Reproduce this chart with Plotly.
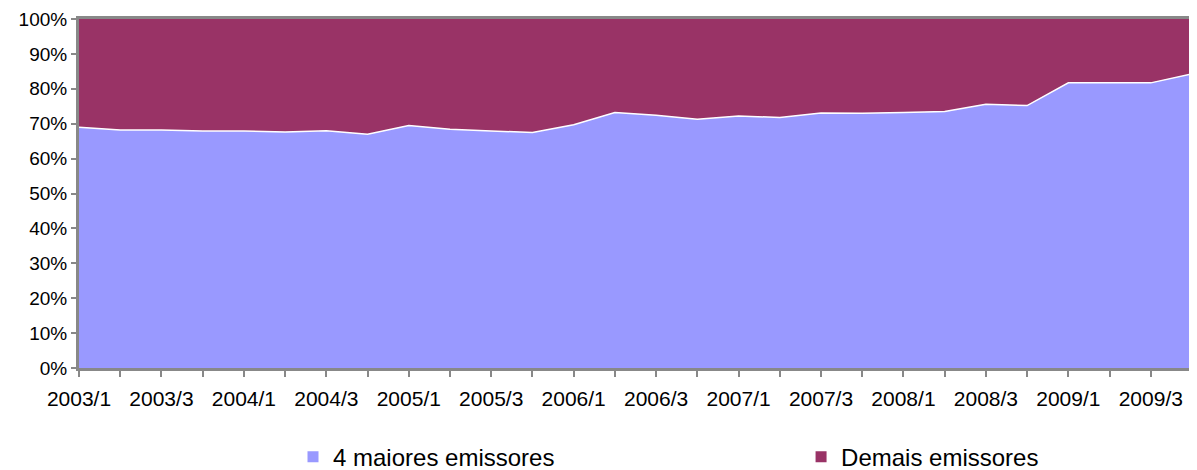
import plotly.graph_objects as go

# quarters 2003/1 .. 2009/4
quarters = [f"{y}/{q}" for y in range(2003, 2010) for q in range(1, 5)]

# share of the 4 largest issuers (%)
top4 = [
    69.0, 68.2, 68.2, 67.9,
    67.9, 67.6, 68.0, 67.0,
    69.5, 68.4, 67.9, 67.5,
    69.7, 73.2, 72.4, 71.3,
    72.2, 71.8, 73.1, 73.0,
    73.2, 73.5, 75.6, 75.2,
    81.7, 81.7, 81.7, 84.3,
]

# share of the remaining issuers (%)
others = [
    31.0, 31.8, 31.8, 32.1,
    32.1, 32.4, 32.0, 33.0,
    30.5, 31.6, 32.1, 32.5,
    30.3, 26.8, 27.6, 28.7,
    27.8, 28.2, 26.9, 27.0,
    26.8, 26.5, 24.4, 24.8,
    18.3, 18.3, 18.3, 15.7,
]

tick_labels = [q if i % 2 == 0 else "" for i, q in enumerate(quarters)]

fig = go.Figure()
fig.add_trace(
    go.Scatter(
        x=quarters,
        y=top4,
        name="4 maiores emissores",
        mode="lines",
        stackgroup="one",
        fillcolor="#9999FF",
        line=dict(color="white", width=1.5),
        showlegend=False,
    )
)
fig.add_trace(
    go.Scatter(
        x=quarters,
        y=others,
        name="Demais emissores",
        mode="lines",
        stackgroup="one",
        fillcolor="#993366",
        line=dict(color="#993366", width=0),
        showlegend=False,
    )
)

# square legend keys, one legend per item so they sit far apart like the original
for name, color, leg in [
    ("4 maiores emissores", "#9999FF", "legend"),
    ("Demais emissores", "#993366", "legend2"),
]:
    fig.add_trace(
        go.Scatter(
            x=[None],
            y=[None],
            name=name,
            mode="markers",
            marker=dict(symbol="square", size=11, color=color),
            legend=leg,
        )
    )

legend_style = dict(
    orientation="h",
    xref="container",
    yref="container",
    xanchor="left",
    y=0.028,
    yanchor="middle",
    font=dict(size=24),
    itemclick=False,
    itemwidth=30,
)

# page body has an 8px margin, so the figure is shrunk by that to avoid scrollbars
fig.update_layout(
    width=1189,
    height=462,
    margin=dict(l=71, r=5, t=11, b=102),
    paper_bgcolor="white",
    plot_bgcolor="white",
    font=dict(family="Liberation Sans, Arial, sans-serif", size=19, color="black"),
    showlegend=True,
    legend=dict(x=0.2397, **legend_style),
    legend2=dict(x=0.667, **legend_style),
)
fig.update_xaxes(
    type="category",
    range=[0, len(quarters) - 1],
    tickmode="array",
    tickvals=quarters,
    ticktext=tick_labels,
    tickangle=0,
    tickfont=dict(size=21),
    ticklabelstandoff=4,
    showgrid=False,
    showline=True,
    linecolor="#888888",
    linewidth=3,
    mirror=True,
    ticks="outside",
    ticklen=6,
    tickwidth=2,
    tickcolor="#888888",
    zeroline=False,
    automargin=False,
)
fig.update_yaxes(
    range=[0, 100],
    tickvals=list(range(0, 101, 10)),
    ticktext=[f"{v}%" for v in range(0, 101, 10)],
    showgrid=False,
    showline=True,
    linecolor="#888888",
    linewidth=3,
    ticks="outside",
    ticklen=5,
    tickwidth=2,
    tickcolor="#888888",
    zeroline=False,
    automargin=False,
)

fig.write_html("out.html")
